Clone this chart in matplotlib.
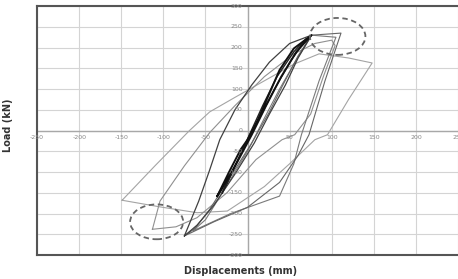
import matplotlib.pyplot as plt
from matplotlib.patches import Ellipse

# hysteresis paths (displacement mm, load kN)
black1_x = [-36, -22, -8, 0, 12, 25, 38, 55, 76, 58, 40, 22, 5, -12, -26, -36]
black1_y = [-158, -100, -45, -22, 25, 85, 146, 198, 230, 190, 130, 60, -10, -75, -125, -158]

black2_x = [-30, -15, 0, 18, 35, 55, 70, 52, 32, 14, -4, -18, -30]
black2_y = [-150, -85, -20, 60, 130, 190, 222, 170, 100, 30, -40, -100, -150]

dark_x = [-75, -58, -45, -33, -15, 5, 26, 50, 76, 60, 45, 26, 8, -15, -40, -60, -75]
dark_y = [-254, -170, -95, -22, 50, 110, 165, 210, 230, 175, 110, 40, -30, -105, -180, -228, -254]

loop3_x = [76, 60, 42, 26, 5, -20, -45, -62, -75, -40, 0, 38, 60, 73, 92, 111, 76]
loop3_y = [230, 180, 110, 45, -30, -110, -190, -235, -254, -220, -185, -125, -60, -10, 120, 235, 230]

loop3b_x = [76, 55, 38, 20, 0, -30, -50, -65, -20, 38, 55, 64, 85, 105, 76]
loop3b_y = [230, 160, 100, 30, -50, -150, -215, -242, -200, -158, -80, -10, 120, 225, 230]

loop4_x = [-113, -104, -75, -45, -15, 20, 55, 80, 100, 104, 90, 75, 56, 41, 10, -24, -60, -85, -113]
loop4_y = [-238, -170, -85, -5, 60, 130, 185, 210, 218, 205, 130, 40, -10, -22, -70, -149, -210, -232, -238]

outer_x = [-149, -110, -69, -45, -15, 20, 55, 85, 120, 148, 120, 95, 80, 50, 20, -24, -60, -104, -149]
outer_y = [-168, -85, 0, 45, 80, 120, 160, 185, 175, 163, 75, -10, -22, -80, -135, -194, -198, -184, -168]

ell_cx = [107, -108]
ell_cy = [227, -220]
ell_w = [66, 63]
ell_h = [89, 84]

x_ticks = [-250, -200, -150, -100, -50, 50, 100, 150, 200, 250]
y_ticks = [300, 250, 200, 150, 100, 50, 0, -50, -100, -150, -200, -250, -300]

fig = plt.figure(figsize=(4.58, 2.79), dpi=100)
ax = fig.add_axes([0.081, 0.086, 0.919, 0.892])
ax.set_xlim(-250, 250)
ax.set_ylim(-300, 300)

# grid
for gx in range(-250, 251, 50):
    ax.axvline(gx, color='#d4d4d4', lw=0.8, zorder=0)
for gy in range(-300, 301, 50):
    ax.axhline(gy, color='#d4d4d4', lw=0.8, zorder=0)
ax.axvline(0, color='#a8a8a8', lw=1.0, zorder=1)
ax.axhline(0, color='#a8a8a8', lw=1.0, zorder=1)

# loops, lightest first
ax.plot(outer_x, outer_y, color='#a4a4a4', lw=0.8)
ax.plot(loop4_x, loop4_y, color='#909090', lw=0.8)
ax.plot(loop3b_x, loop3b_y, color='#7a7a7a', lw=0.8)
ax.plot(loop3_x, loop3_y, color='#666666', lw=0.8)
ax.plot(dark_x, dark_y, color='#404040', lw=0.9)
ax.plot(black2_x, black2_y, color='#222222', lw=1.0)
ax.plot(black1_x, black1_y, color='#111111', lw=1.4)

for cx, cy, w, h in zip(ell_cx, ell_cy, ell_w, ell_h):
    ax.add_patch(Ellipse((cx, cy), w, h, fill=False, ls=(0, (3, 2)),
                         lw=1.3, edgecolor='#666666', zorder=5))

# tick labels sit on the zero lines
ax.set_xticks([])
ax.set_yticks([])
for t in x_ticks:
    ax.text(t, -10, str(t), ha='center', va='top', fontsize=4.5, color='#888888')
for t in y_ticks:
    ax.text(-6, t, str(t), ha='right', va='center', fontsize=4.5, color='#888888')

for s in ['left', 'top', 'bottom']:
    ax.spines[s].set_color('#555555')
    ax.spines[s].set_linewidth(1.5)
ax.spines['right'].set_visible(False)

fig.text(0.525, 0.03, 'Displacements (mm)', ha='center', va='center',
         fontsize=7, fontweight='bold', color='#333333')
fig.text(0.018, 0.55, 'Load (kN)', ha='center', va='center', rotation=90,
         fontsize=7, fontweight='bold', color='#333333')

fig.savefig('out.png', dpi=100)
